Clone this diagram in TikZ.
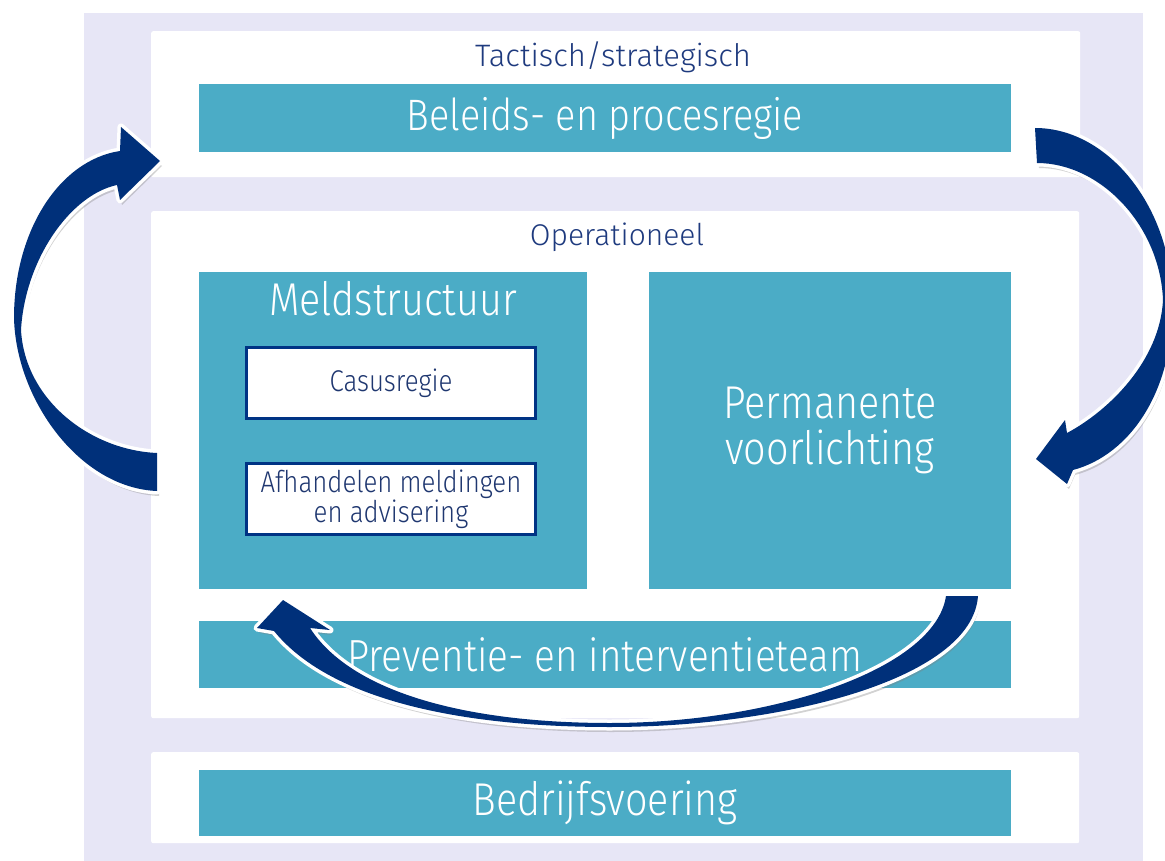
\documentclass[tikz,border=0pt]{standalone}
\usepackage{fontspec}
\setmainfont{Fira Sans Light}[FakeStretch=0.86]
\newfontfamily\headfont{Fira Sans Light}
\usetikzlibrary{shadows}
\definecolor{lav}{HTML}{E7E6F6}
\definecolor{tealbar}{HTML}{4BACC6}
\definecolor{navy}{HTML}{1E3A7E}
\definecolor{subnavy}{HTML}{1F3770}
\definecolor{arrowblue}{HTML}{00307A}
\definecolor{boxline}{HTML}{003384}
\def\LeftArrow{(157,491) .. controls (80,488) and (16,400) .. (14,318)
  .. controls (14,230) and (60,160) .. (120,151) -- (121,127) -- (160,161) -- (120,200) -- (117,185)
  .. controls (70,195) and (25,260) .. (21,330)
  .. controls (25,400) and (90,450) .. (157,453) -- cycle}
\def\RightArrow{(1035,128) .. controls (1110,128) and (1172,210) .. (1172,300)
  .. controls (1175,390) and (1130,455) .. (1073,470) -- (1067,484) -- (1036,459) -- (1065,420) -- (1067,433)
  .. controls (1110,410) and (1160,360) .. (1163,300)
  .. controls (1160,225) and (1100,163) .. (1037,163) -- cycle}
\def\BottomArrow{(978,596) .. controls (972,680) and (780,727) .. (610,727)
  .. controls (460,727) and (330,700) .. (274,631) -- (257,628) -- (283,600) -- (330,630) -- (310,628)
  .. controls (350,690) and (460,723) .. (610,723)
  .. controls (770,723) and (935,670) .. (946,596) -- cycle}
\begin{document}
\begin{tikzpicture}[x=1pt,y=-1pt,
  panel/.style={fill=white, rounded corners=2pt, draw=none, inner sep=0pt, anchor=north west},
  bar/.style={fill=tealbar, text=white, inner sep=0pt, font=\fontsize{44}{46}\selectfont, align=center},
  heading/.style={text=navy, font=\headfont\fontsize{30}{32}\selectfont, inner sep=0pt},
  subbox/.style={fill=white, draw=boxline, line width=3pt, text=subnavy, font=\fontsize{30}{30}\selectfont, align=center, inner sep=0pt},
  arrowback/.style={fill=white, draw=white, line width=7pt, line join=round, drop shadow={opacity=0.35, shadow xshift=2pt, shadow yshift=-5pt}},
  arrowfront/.style={fill=arrowblue}
]
\useasboundingbox (0,0) rectangle (1165,861);
\fill[white] (0,0) rectangle (1165,861);
\fill[lav] (84,13) rectangle (1143,861);
% panels
\node[panel, minimum width=929pt, minimum height=146pt] (tac) at (151,31) {};
\node[panel, minimum width=928pt, minimum height=507pt] (ops) at (151,211) {};
\node[panel, minimum width=928pt, minimum height=91pt] (bedp) at (151,752) {};
% tactisch
\node[heading, font=\headfont\fontsize{31}{32}\selectfont] (tactxt) at (613,57) {Tactisch/strategisch};
\node[bar, minimum width=812pt, minimum height=68pt] (beleid) at (605,118) {Beleids- en procesregie};
% operationeel
\node[heading] (optxt) at (617,237) {Operationeel};
\node[bar, minimum width=388pt, minimum height=317pt] (meld) at (393,430.5) {};
\node[text=white, font=\fontsize{46}{46}\selectfont, inner sep=0pt] (meldtxt) at (393,299) {Meldstructuur};
\node[subbox, minimum width=289pt, minimum height=71pt] (casus) at (391,383) {Casusregie};
\node[subbox, minimum width=289pt, minimum height=71pt] (afh) at (391,499) {Afhandelen meldingen\\en advisering};
\node[bar, minimum width=362pt, minimum height=317pt, font=\fontsize{46}{46}\selectfont] (perm) at (830,430.5) {Permanente\\voorlichting};
\node[bar, minimum width=812pt, minimum height=67pt, font=\fontsize{45}{46}\selectfont] (prev) at (605,654.5) {Preventie- en interventieteam};
% bedrijfsvoering
\node[bar, minimum width=812pt, minimum height=66pt, font=\fontsize{46}{46}\selectfont] (bedr) at (605,803) {Bedrijfsvoering};
% arrows
\path[arrowback] \LeftArrow;
\path[arrowfront] \LeftArrow;
\path[arrowback] \RightArrow;
\path[arrowfront] \RightArrow;
\path[arrowback] \BottomArrow;
\path[arrowfront] \BottomArrow;
\end{tikzpicture}
\end{document}
